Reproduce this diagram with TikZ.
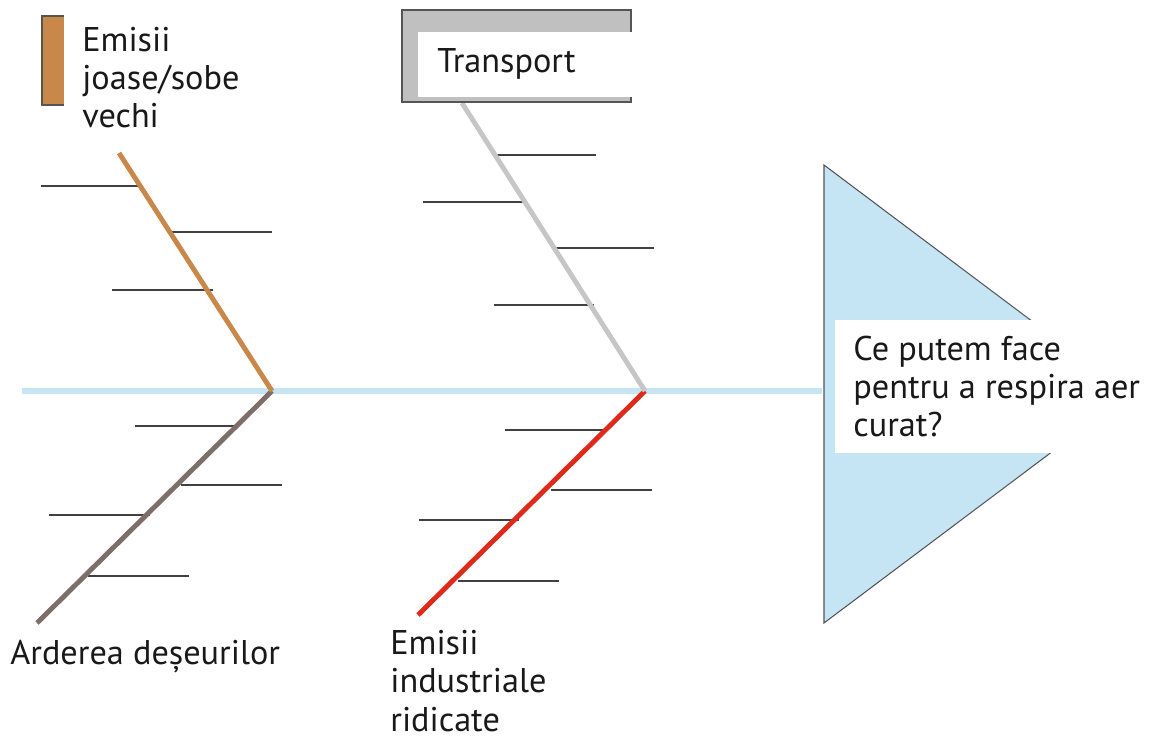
\documentclass[tikz,border=0pt]{standalone}
\usepackage{fontspec}
\setmainfont{PT Sans}
\usetikzlibrary{positioning}
\definecolor{spineblue}{HTML}{C5E4F4}
\definecolor{bonebrown}{HTML}{C8884A}
\definecolor{bonegray}{HTML}{C6C6C6}
\definecolor{bonetaupe}{HTML}{7D6E67}
\definecolor{bonered}{HTML}{DD2A1B}
\definecolor{boxgray}{HTML}{C0C0C0}
\definecolor{edgegray}{HTML}{555555}
\tikzset{
  spine/.style={spineblue, line width=3.4pt},
  bone/.style={line width=2.8pt},
  rib/.style={black!75, line width=0.7pt},
  lbl/.style={font=\fontsize{19.5pt}{21.8pt}\selectfont, align=left, inner sep=0pt, text=black!90},
  headtri/.style={fill=spineblue, draw=edgegray, line width=0.6pt},
  catbox/.style={draw=edgegray, line width=0.8pt}
}
\begin{document}
\begin{tikzpicture}[x=0.02cm, y=-0.02cm]
  \useasboundingbox (0,0) rectangle (1149,739);
  % spine and head
  \coordinate (tail) at (22,391);
  \coordinate (neck) at (822,391);
  \draw[spine] (tail) -- (neck);
  \draw[headtri] (824,165) -- (1129,394) -- (824,623) -- cycle;
  \fill[white] (835,320) rectangle (1149,453);
  % multi-line labels sit on the baseline of their last line
  \node[lbl, anchor=base west] (goal) at (853,437) {Ce putem face\\pentru a respira aer\\curat?};

  % joints and bone ends
  \coordinate (jointA) at (272,391);
  \coordinate (jointB) at (645,391);
  \coordinate (endStoves) at (119,153);
  \coordinate (endTransport) at (462,103);
  \coordinate (endWaste) at (37,623);
  \coordinate (endIndustry) at (418,615);

  % ribs
  \foreach \y/\xa/\xb in {186/41/142, 232/171/272, 290/112/213,
                          155/496/596, 202/423/523, 248/553/654, 305/494/594,
                          426/135/236, 485/181/282, 515/49/150, 576/88/189,
                          430/505/606, 490/551/652, 520/419/519, 581/458/559}
    \draw[rib] (\xa,\y) -- (\xb,\y);

  % bones
  \draw[bone, bonetaupe] (jointA) -- (endWaste);
  \draw[bone, bonered] (jointB) -- (endIndustry);
  \draw[bone, bonebrown] (endStoves) -- (jointA);
  \draw[bone, bonegray] (endTransport) -- (jointB);

  % category boxes
  \draw[catbox, fill=bonebrown] (42,16) rectangle (110,105);
  \fill[white] (64,0) rectangle (255,145);
  \node[lbl, anchor=base west] (stoves) at (82,128) {Emisii\\joase/sobe\\vechi};

  \draw[catbox, fill=boxgray] (402,10) rectangle (631,102);
  \fill[white] (418,32) rectangle (632,97);
  \node[lbl, anchor=base west] (transport) at (437,73) {Transport};

  \node[lbl, anchor=base west] (waste) at (10,664) {Arderea deșeurilor};
  \node[lbl, anchor=base west] (industry) at (390,731) {Emisii\\industriale\\ridicate};
\end{tikzpicture}
\end{document}
